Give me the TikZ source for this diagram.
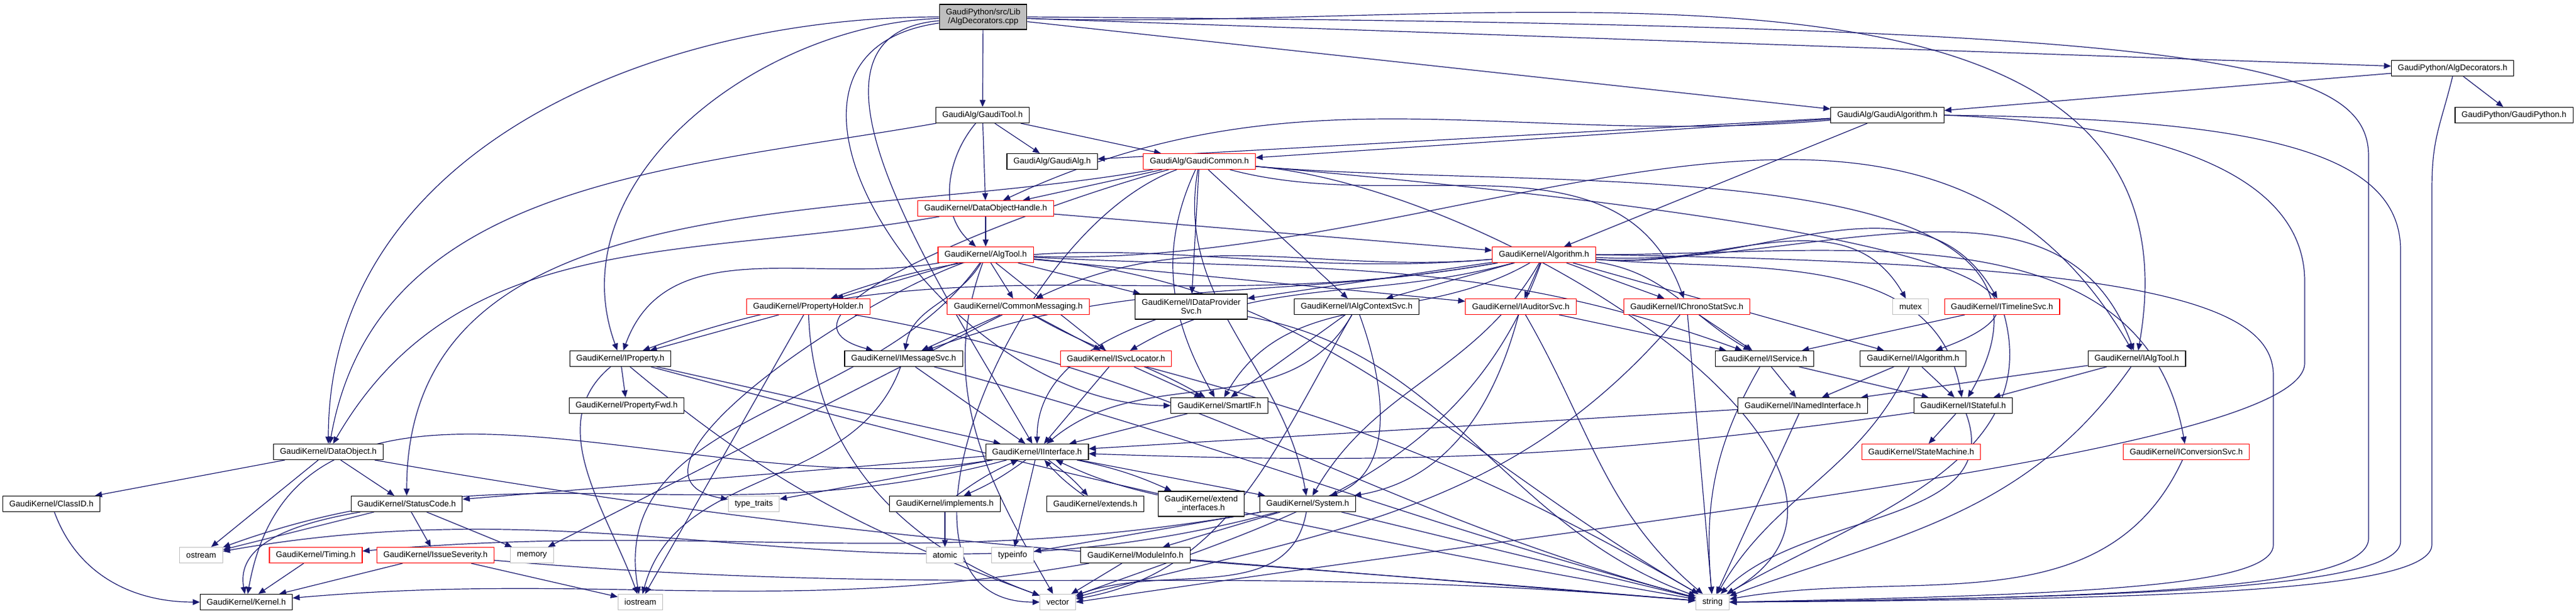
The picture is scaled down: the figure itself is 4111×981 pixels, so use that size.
\documentclass[tikz,border=0pt]{standalone}
\usepackage{fontspec}
\setmainfont{Liberation Sans}
\usetikzlibrary{arrows.meta,backgrounds}
\definecolor{edgeblue}{RGB}{25,25,112}
\definecolor{boxgray}{RGB}{191,191,191}
\begin{document}
\begin{tikzpicture}[x=0.25pt,y=-0.25pt,font=\fontsize{3.3}{3.5}\selectfont,
	filebox/.style={rectangle, draw=black, fill=white, line width=0.28pt, inner xsep=2.6pt, inner ysep=0pt, minimum height=6.25pt, align=center},
	redbox/.style={filebox, draw=red},
	sysbox/.style={filebox, draw=boxgray},
	rootbox/.style={filebox, fill=boxgray, minimum height=10pt},
	twoline/.style={minimum height=10pt},
	inc/.style={draw=edgeblue, line width=0.3pt, -{Triangle[length=2.8pt,width=2.3pt]}}]
	\useasboundingbox (0,0) rectangle (4111,981);
	\node (R)	at (1569,  27)	[rootbox]	{GaudiPython/src/Lib\\/AlgDecorators.cpp};
	\node (ADh)	at (3914, 109)	[filebox]	{GaudiPython/AlgDecorators.h};
	\node (GP)	at (4012, 184)	[filebox]	{GaudiPython/GaudiPython.h};
	\node (GT)	at (1568, 184)	[filebox]	{GaudiAlg/GaudiTool.h};
	\node (GAlgo)	at (3012, 184)	[filebox]	{GaudiAlg/GaudiAlgorithm.h};
	\node (GA)	at (1679, 258)	[filebox]	{GaudiAlg/GaudiAlg.h};
	\node (GC)	at (1914, 258)	[redbox]	{GaudiAlg/GaudiCommon.h};
	\node (DOH)	at (1573, 333)	[redbox]	{GaudiKernel/DataObjectHandle.h};
	\node (AT)	at (1573, 407)	[redbox]	{GaudiKernel/AlgTool.h};
	\node (ALG)	at (2464, 407)	[redbox]	{GaudiKernel/Algorithm.h};
	\node (PH)	at (1290, 490)	[redbox]	{GaudiKernel/PropertyHolder.h};
	\node (CM)	at (1625, 490)	[redbox]	{GaudiKernel/CommonMessaging.h};
	\node (IDP)	at (1901, 490)	[filebox, twoline]	{GaudiKernel/IDataProvider\\Svc.h};
	\node (IACS)	at (2165, 490)	[filebox]	{GaudiKernel/IAlgContextSvc.h};
	\node (IAud)	at (2427, 490)	[redbox]	{GaudiKernel/IAuditorSvc.h};
	\node (ICS)	at (2692, 490)	[redbox]	{GaudiKernel/IChronoStatSvc.h};
	\node (MUT)	at (3049, 490)	[sysbox]	{mutex};
	\node (ITL)	at (3195, 490)	[redbox]	{GaudiKernel/ITimelineSvc.h};
	\node (IP)	at ( 990, 573)	[filebox]	{GaudiKernel/IProperty.h};
	\node (IMS)	at (1442, 573)	[filebox]	{GaudiKernel/IMessageSvc.h};
	\node (ISL)	at (1781, 573)	[redbox]	{GaudiKernel/ISvcLocator.h};
	\node (IS)	at (2816, 573)	[filebox]	{GaudiKernel/IService.h};
	\node (IA)	at (3053, 573)	[filebox]	{GaudiKernel/IAlgorithm.h};
	\node (IAT)	at (3410, 573)	[filebox]	{GaudiKernel/IAlgTool.h};
	\node (PF)	at (1000, 648)	[filebox]	{GaudiKernel/PropertyFwd.h};
	\node (SIF)	at (1946, 648)	[filebox]	{GaudiKernel/SmartIF.h};
	\node (INI)	at (2877, 648)	[filebox]	{GaudiKernel/INamedInterface.h};
	\node (IST)	at (3133, 648)	[filebox]	{GaudiKernel/IStateful.h};
	\node (DO)	at ( 524, 722)	[filebox]	{GaudiKernel/DataObject.h};
	\node (II)	at (1655, 722)	[filebox]	{GaudiKernel/IInterface.h};
	\node (SM)	at (3066, 722)	[redbox]	{GaudiKernel/StateMachine.h};
	\node (ICV)	at (3489, 722)	[redbox]	{GaudiKernel/IConversionSvc.h};
	\node (CID)	at (  82, 805)	[filebox]	{GaudiKernel/ClassID.h};
	\node (SC)	at ( 649, 805)	[filebox]	{GaudiKernel/StatusCode.h};
	\node (TT)	at (1203, 805)	[sysbox]	{type\_traits};
	\node (IMPL)	at (1508, 805)	[filebox]	{GaudiKernel/implements.h};
	\node (EXT)	at (1748, 805)	[filebox]	{GaudiKernel/extends.h};
	\node (EXI)	at (1917, 805)	[filebox, twoline]	{GaudiKernel/extend\\\_interfaces.h};
	\node (SYS)	at (2087, 805)	[filebox]	{GaudiKernel/System.h};
	\node (OST)	at ( 321, 887)	[sysbox]	{ostream};
	\node (TIM)	at ( 504, 887)	[redbox]	{GaudiKernel/Timing.h};
	\node (ISV)	at ( 695, 887)	[redbox]	{GaudiKernel/IssueSeverity.h};
	\node (MEM)	at ( 849, 887)	[sysbox]	{memory};
	\node (ATO)	at (1508, 887)	[sysbox]	{atomic};
	\node (TYP)	at (1616, 887)	[sysbox]	{typeinfo};
	\node (MI)	at (1812, 887)	[filebox]	{GaudiKernel/ModuleInfo.h};
	\node (KER)	at ( 393, 962)	[filebox]	{GaudiKernel/Kernel.h};
	\node (IOS)	at (1022, 962)	[sysbox]	{iostream};
	\node (VEC)	at (1688, 962)	[sysbox]	{vector};
	\node (STR)	at (2733, 962)	[sysbox]	{string};
	\begin{pgfonlayer}{background}
	\draw[inc] (R) -- (GT);
	\draw[inc] (R) -- (ADh);
	\draw[inc] (R) -- (GAlgo);
	\draw[inc] (R) to[out=-2,in=80] (IAT);
	\draw[inc] (R.east) .. controls (3500,40) and (3780,90) .. (3780,250) -- (3780,860) .. controls (3780,940) and (3400,955) .. (STR.east);
	\draw[inc] (R) to[out=180,in=90] (DO);
	\draw[inc] (R) to[out=182,in=110] (IP);
	\draw[inc] (R) to[out=185,in=120] (II);
	\draw[inc] (R) to[out=188,in=180,looseness=1.3] (SIF);
	\draw[inc] (ADh) -- (GP);
	\draw[inc] (ADh) -- (GAlgo);
	\draw[inc] (ADh.south) .. controls (3895,200) and (3881,220) .. (3881,300) -- (3881,870) .. controls (3881,945) and (3450,958) .. (STR.east);
	\draw[inc] (GT) -- (GA);
	\draw[inc] (GT) -- (GC);
	\draw[inc] (GT) -- (DOH);
	\draw[inc] (GT) to[out=-130,in=140] (AT);
	\draw[inc] (GT) to[out=190,in=80] (DO);
	\draw[inc] (GAlgo) -- (GA);
	\draw[inc] (GAlgo) -- (GC);
	\draw[inc] (GAlgo) to[out=185,in=25] (DOH);
	\draw[inc] (GAlgo) -- (ALG);
	\draw[inc] (GAlgo.east) .. controls (3600,190) and (3831,240) .. (3831,400) -- (3831,865) .. controls (3831,940) and (3400,955) .. (STR.east);
	\draw[inc] (GAlgo.east) .. controls (3500,200) and (3678,300) .. (3678,450) -- (3678,580) .. controls (3678,720) and (2600,830) .. (VEC.east);
	\draw[inc] (GC) -- (DOH);
	\draw[inc] (GC) -- (IDP);
	\draw[inc] (GC) -- (IACS);
	\draw[inc] (GC) to[out=-15,in=110] (ICS);
	\draw[inc] (GC) to[out=190,in=90] (SC);
	\draw[inc] (GC) to[out=-115,in=120] (SIF);
	\draw[inc] (GC) to[out=195,in=165] (IMS);
	\draw[inc] (GC) to[out=-5,in=20] (IA);
	\draw[inc] (GC) to[out=-5,in=60] (IST);
	\draw[inc] (GC) to[out=-100,in=100] (SYS);
	\draw[inc] (GC) to[out=-5,in=30] (STR);
	\draw[inc] (GC) to[out=200,in=180] (VEC);
	\draw[inc] (DOH) -- (AT);
	\draw[inc] (DOH) -- (ALG);
	\draw[inc] (DOH) to[out=190,in=60] (DO);
	\draw[inc] (AT) -- (PH);
	\draw[inc] (AT) -- (CM);
	\draw[inc] (AT) -- (IDP);
	\draw[inc] (AT) to[out=190,in=70] (IP);
	\draw[inc] (AT) to[out=-120,in=80] (IMS);
	\draw[inc] (AT) -- (ISL);
	\draw[inc] (AT) -- (IAud);
	\draw[inc] (AT) to[out=-3,in=160] (IS);
	\draw[inc] (AT) to[out=-2,in=120] (IAT);
	\draw[inc] (AT) to[out=200,in=170] (TT);
	\draw[inc] (AT) to[out=-5,in=150] (STR);
	\draw[inc] (AT) to[out=-110,in=120] (VEC);
	\draw[inc] (AT) to[out=-125,in=100] (IOS);
	\draw[inc] (ALG) to[out=185,in=20] (PH);
	\draw[inc] (ALG) to[out=185,in=25] (CM);
	\draw[inc] (ALG) -- (IDP);
	\draw[inc] (ALG) -- (IACS);
	\draw[inc] (ALG) -- (IAud);
	\draw[inc] (ALG) -- (ICS);
	\draw[inc] (ALG) to[out=-5,in=120] (MUT);
	\draw[inc] (ALG) to[out=-5,in=120] (ITL);
	\draw[inc] (ALG) to[out=-8,in=150] (IS);
	\draw[inc] (ALG) -- (IA);
	\draw[inc] (ALG) to[out=-3,in=110] (IAT);
	\draw[inc] (ALG) to[out=-5,in=100] (IST);
	\draw[inc] (ALG) to[out=0,in=100] (ICV);
	\draw[inc] (ALG) to[out=190,in=20] (IP);
	\draw[inc] (ALG) to[out=190,in=20] (IMS);
	\draw[inc] (ALG) to[out=195,in=30] (ISL);
	\draw[inc] (ALG) to[out=-150,in=60] (SIF);
	\draw[inc] (ALG) to[out=-120,in=60] (SYS);
	\draw[inc] (ALG.east) .. controls (3400,420) and (3628,480) .. (3628,600) -- (3628,870) .. controls (3628,935) and (3350,950) .. (STR.east);
	\draw[inc] (ALG) to[out=-110,in=20] (VEC);
	\draw[inc] (PH) -- (IP);
	\draw[inc] (PH) -- (IOS);
	\draw[inc] (PH) to[out=-88,in=160] (VEC);
	\draw[inc] (PH) to[out=-10,in=165] (STR);
	\draw[inc] (CM) -- (IMS);
	\draw[inc] (CM) -- (ISL);
	\draw[inc] (CM) to[out=-30,in=150] (SIF);
	\draw[inc] (CM) -- (MEM);
	\draw[inc] (IDP) to[out=200,in=90] (II);
	\draw[inc] (IDP) to[out=-10,in=160] (STR);
	\draw[inc] (IACS) to[out=-120,in=40] (II);
	\draw[inc] (IACS) -- (SIF);
	\draw[inc] (IACS) to[out=-70,in=20] (SYS);
	\draw[inc] (IACS) to[out=-120,in=10] (VEC);
	\draw[inc] (IAud) -- (IS);
	\draw[inc] (IAud) to[out=-105,in=10] (SYS);
	\draw[inc] (IAud) to[out=-60,in=140] (STR);
	\draw[inc] (ICS) -- (IS);
	\draw[inc] (ICS) -- (STR);
	\draw[inc] (ICS) to[out=-130,in=15] (VEC);
	\draw[inc] (ITL) -- (IS);
	\draw[inc] (ITL) to[out=-75,in=30] (STR);
	\draw[inc] (IS) -- (INI);
	\draw[inc] (IS) -- (IST);
	\draw[inc] (IS) to[out=-120,in=95] (STR);
	\draw[inc] (IA) -- (INI);
	\draw[inc] (IA) -- (IST);
	\draw[inc] (IA) to[out=-115,in=60] (STR);
	\draw[inc] (IAT) -- (INI);
	\draw[inc] (IAT) -- (IST);
	\draw[inc] (IAT) to[out=-125,in=20] (STR);
	\draw[inc] (INI) -- (II);
	\draw[inc] (INI) -- (STR);
	\draw[inc] (IST) -- (SM);
	\draw[inc] (IST) to[out=188,in=-2] (II);
	\draw[inc] (IST) to[out=-70,in=45] (STR);
	\draw[inc] (ICV) to[out=-115,in=10] (STR);
	\draw[inc] (IP) -- (PF);
	\draw[inc] (IP) -- (II);
	\draw[inc] (IP) to[out=-140,in=110] (IOS);
	\draw[inc] (IP) to[out=-15,in=170] (STR);
	\draw[inc] (IP) to[out=-40,in=160] (VEC);
	\draw[inc] (IMS) -- (II);
	\draw[inc] (IMS) to[out=-110,in=75] (IOS);
	\draw[inc] (IMS) to[out=-15,in=165] (STR);
	\draw[inc] (ISL) -- (II);
	\draw[inc] (ISL) -- (SIF);
	\draw[inc] (ISL) to[out=-15,in=150] (STR);
	\draw[inc] (SIF) -- (II);
	\draw[inc] (DO) -- (CID);
	\draw[inc] (DO) -- (SC);
	\draw[inc] (DO) -- (OST);
	\draw[inc] (DO) to[out=-10,in=175] (STR);
	\draw[inc] (II) -- (SC);
	\draw[inc] (II) to[out=190,in=80] (KER);
	\draw[inc] (II) to[out=195,in=20] (OST);
	\draw[inc] (II) -- (TT);
	\draw[inc] (II) to[bend left=6] (IMPL);
	\draw[inc] (IMPL) to[bend left=6] (II);
	\draw[inc] (II) to[bend left=6] (EXT);
	\draw[inc] (EXT) to[bend left=6] (II);
	\draw[inc] (II) to[bend left=6] (EXI);
	\draw[inc] (EXI) to[bend left=6] (II);
	\draw[inc] (II) -- (SYS);
	\draw[inc] (II) -- (TYP);
	\draw[inc] (IMPL) -- (ATO);
	\draw[inc] (SYS) to[out=190,in=5] (TIM);
	\draw[inc] (SYS) -- (MI);
	\draw[inc] (SYS) -- (TYP);
	\draw[inc] (SYS) -- (STR);
	\draw[inc] (SYS) to[out=-100,in=20] (VEC);
	\draw[inc] (SYS) to[out=195,in=10] (OST);
	\draw[inc] (MI) to[out=190,in=5] (KER);
	\draw[inc] (MI) -- (STR);
	\draw[inc] (MI) -- (VEC);
	\draw[inc] (SC) to[out=190,in=100] (KER);
	\draw[inc] (SC) -- (ISV);
	\draw[inc] (SC) -- (OST);
	\draw[inc] (SC) -- (MEM);
	\draw[inc] (ISV) -- (KER);
	\draw[inc] (ISV) -- (IOS);
	\draw[inc] (ISV) to[out=-5,in=175] (STR);
	\draw[inc] (TIM) -- (KER);
	\draw[inc] (CID) to[out=-70,in=180] (KER);
	\end{pgfonlayer}
\end{tikzpicture}
\end{document}
